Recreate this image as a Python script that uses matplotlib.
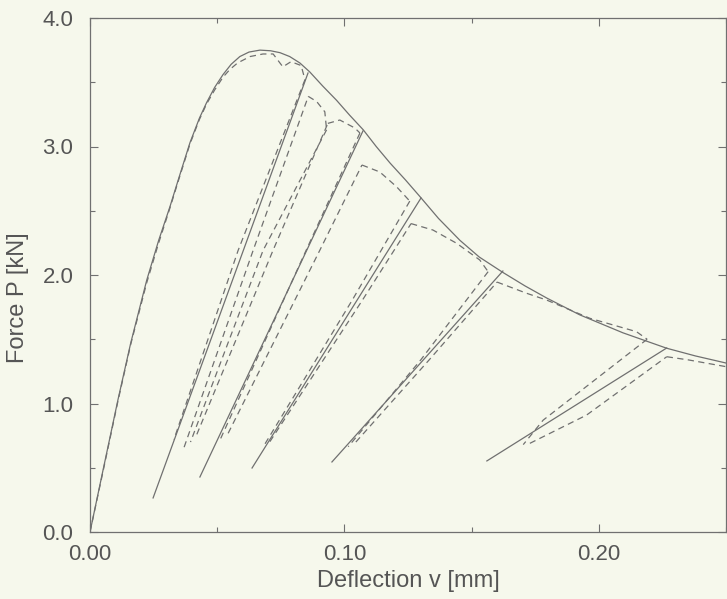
import matplotlib.pyplot as plt
from matplotlib.ticker import MultipleLocator, FormatStrFormatter

# model envelope (solid)
env_v = [0.0, 0.005, 0.011, 0.016, 0.0223, 0.027, 0.0314, 0.035, 0.0393, 0.043, 0.0458,
         0.049, 0.0523, 0.0555, 0.0589, 0.0625, 0.0668, 0.071, 0.0747, 0.0785, 0.0825,
         0.0864, 0.0915, 0.0969, 0.102, 0.1074, 0.1125, 0.118, 0.124, 0.1297, 0.137,
         0.1454, 0.153, 0.1623, 0.171, 0.1796, 0.1925, 0.2095, 0.2267, 0.238, 0.25]
env_p = [0.0, 0.47, 1.03, 1.47, 1.96, 2.27, 2.53, 2.76, 3.03, 3.22, 3.34,
         3.46, 3.56, 3.64, 3.70, 3.735, 3.75, 3.745, 3.73, 3.70, 3.65,
         3.58, 3.47, 3.36, 3.245, 3.13, 3.00, 2.87, 2.74, 2.61, 2.44,
         2.27, 2.14, 2.02, 1.915, 1.82, 1.69, 1.55, 1.43, 1.37, 1.315]

# model unloading lines (solid)
unload_top_v = [0.0857, 0.1073, 0.1301, 0.1623, 0.2267]
unload_top_p = [3.572, 3.121, 2.599, 2.031, 1.432]
unload_bot_v = [0.0248, 0.0432, 0.0637, 0.0951, 0.156]
unload_bot_p = [0.265, 0.428, 0.498, 0.545, 0.553]

# experiment (dashed), read piece by piece
exp_pieces = [
    # first loading up to first unloading
    ([0.0, 0.005, 0.011, 0.016, 0.0223, 0.027, 0.0314, 0.035, 0.0393, 0.043, 0.0458, 0.049,
      0.0523, 0.055, 0.058, 0.0629, 0.068, 0.072, 0.0758, 0.079, 0.083, 0.0845],
     [0.0, 0.46, 1.02, 1.46, 1.94, 2.25, 2.52, 2.75, 3.02, 3.21, 3.33, 3.44,
      3.54, 3.60, 3.65, 3.70, 3.72, 3.72, 3.62, 3.66, 3.63, 3.52]),
    # group 1 unload / reload
    ([0.0845, 0.0582, 0.0330], [3.52, 2.19, 0.72]),
    ([0.0370, 0.0641, 0.0858], [0.66, 2.19, 3.39]),
    ([0.0858, 0.0891, 0.0923, 0.0930], [3.39, 3.35, 3.27, 3.13]),
    ([0.0930, 0.0680, 0.0395], [3.13, 2.19, 0.70]),
    ([0.0420, 0.0719, 0.0935], [0.76, 2.19, 3.18]),
    ([0.0935, 0.0982, 0.1041, 0.1061], [3.18, 3.206, 3.144, 3.105]),
    # group 2
    ([0.1061, 0.0838, 0.0511], [3.105, 2.142, 0.716]),
    ([0.0543, 0.0904, 0.1069], [0.768, 2.195, 2.856]),
    ([0.1069, 0.1139, 0.1205, 0.1257], [2.856, 2.802, 2.687, 2.575]),
    # group 3
    ([0.1257, 0.1031, 0.0680], [2.575, 1.805, 0.66]),
    ([0.0707, 0.1071, 0.1262], [0.703, 1.805, 2.40]),
    ([0.1262, 0.1348, 0.1441, 0.1532, 0.1565], [2.40, 2.35, 2.247, 2.117, 2.026]),
    # group 4
    ([0.1565, 0.1300, 0.1015], [2.026, 1.339, 0.664]),
    ([0.1045, 0.1333, 0.1600], [0.70, 1.339, 1.945]),
    ([0.1600, 0.1716, 0.1795, 0.1965, 0.2148, 0.2190], [1.945, 1.858, 1.805, 1.663, 1.559, 1.50]),
    # group 5
    ([0.2190, 0.1781, 0.1703], [1.50, 0.87, 0.68]),
    ([0.1729, 0.1952, 0.2267], [0.69, 0.91, 1.364]),
    ([0.2267, 0.235, 0.2502], [1.364, 1.34, 1.286]),
]

bg = '#f6f8ec'
ink = '#707070'
txt = '#555555'

plt.rcParams['font.family'] = ['Liberation Sans', 'DejaVu Sans']

fig = plt.figure(figsize=(7.27, 5.99), dpi=100, facecolor=bg)
ax = fig.add_axes([90 / 727, 67 / 599, 636 / 727, 514 / 599], facecolor=bg)

ax.plot(env_v, env_p, color=ink, lw=0.9)
for vt, pt, vb, pb in zip(unload_top_v, unload_top_p, unload_bot_v, unload_bot_p):
    ax.plot([vt, vb], [pt, pb], color=ink, lw=0.9)
for v, p in exp_pieces:
    ax.plot(v, p, color=ink, lw=0.9, ls=(0, (5, 3.5)))

ax.set_xlim(0, 0.25)
ax.set_ylim(0, 4.0)
ax.xaxis.set_major_locator(MultipleLocator(0.10))
ax.xaxis.set_minor_locator(MultipleLocator(0.05))
ax.yaxis.set_major_locator(MultipleLocator(1.0))
ax.yaxis.set_minor_locator(MultipleLocator(0.5))
ax.xaxis.set_major_formatter(FormatStrFormatter('%.2f'))
ax.yaxis.set_major_formatter(FormatStrFormatter('%.1f'))

ax.tick_params(which='both', direction='in', top=True, right=True, color=ink,
               labelcolor=txt, labelsize=16)
ax.tick_params(which='major', length=6, width=0.8, pad=9)
ax.tick_params(which='minor', length=3.5, width=0.8)
ax.tick_params(axis='y', which='major', pad=12)
for s in ax.spines.values():
    s.set_color(ink)
    s.set_linewidth(0.9)

ax.set_xlabel('Deflection v [mm]', fontsize=17, color=txt, labelpad=3)
ax.set_ylabel('Force P [kN]', fontsize=17, color=txt)
ax.yaxis.set_label_coords(-0.096, 0.455)

fig.savefig('out.png', dpi=100, facecolor=bg)
